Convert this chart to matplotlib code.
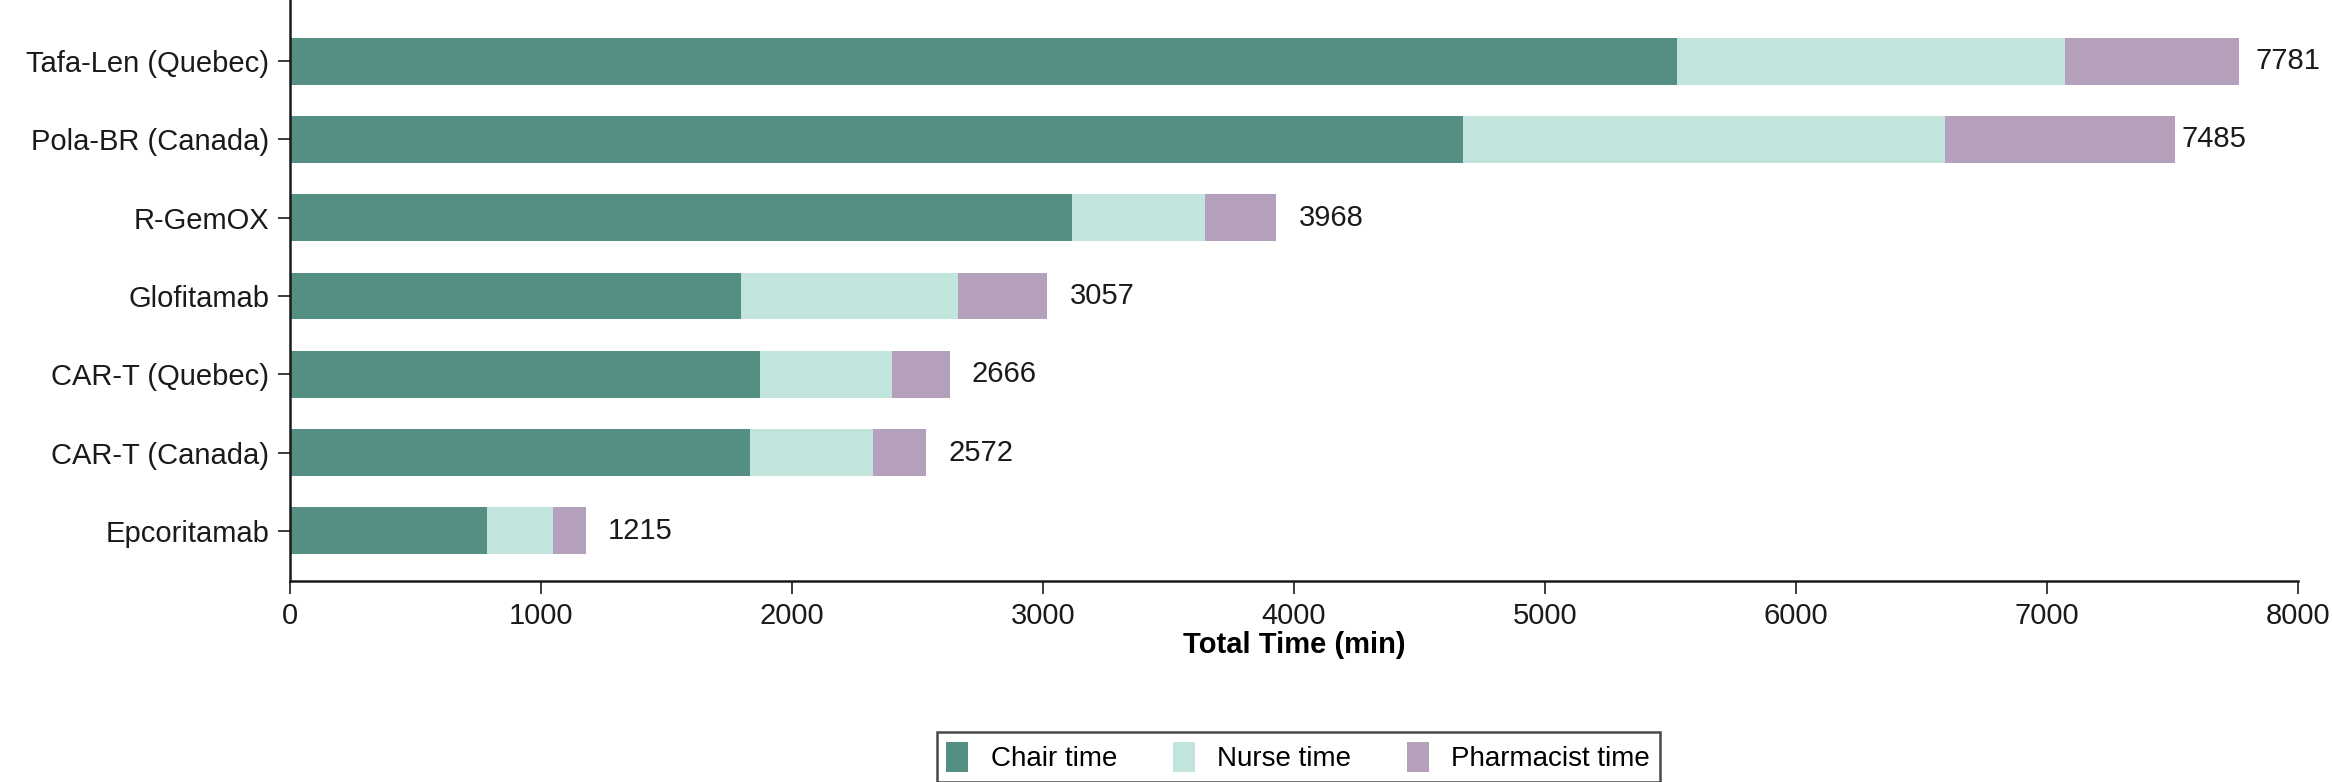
import numpy as np
import matplotlib
matplotlib.use('Agg')
from matplotlib import pyplot as plt
from matplotlib import font_manager

# data (minutes)
regimens = ['Epcoritamab', 'CAR-T (Canada)', 'CAR-T (Quebec)', 'Glofitamab',
            'R-GemOX', 'Pola-BR (Canada)', 'Tafa-Len (Quebec)']
chair = [783, 1832, 1873, 1796, 3114, 4673, 5525]
nurse = [264, 490, 527, 867, 531, 1920, 1547]
pharmacist = [131, 213, 231, 351, 284, 919, 694]
totals = [1215, 2572, 2666, 3057, 3968, 7485, 7781]

series_names = ['Chair time', 'Nurse time', 'Pharmacist time']
colors = ['#558F83', '#C1E4DD', '#B4A0BB']

names = [f.name for f in font_manager.fontManager.ttflist]
if 'Liberation Sans Narrow' in names:
    fam = ['Liberation Sans Narrow', 'DejaVu Sans']
else:
    fam = ['Liberation Sans', 'DejaVu Sans']
plt.rcParams['font.family'] = fam

fig = plt.figure(figsize=(23.32, 7.82), dpi=100)
ax = fig.add_axes([0.1244, 0.257, 0.861, 0.743])

y = np.arange(len(regimens))
left = np.zeros(len(regimens))
for vals, name, c in zip([chair, nurse, pharmacist], series_names, colors):
    ax.barh(y, vals, left=left, height=0.6, color=c, label=name)
    left = left + np.array(vals)

# value labels sit a bit right of the bar end
for yi, tot in zip(y, totals):
    ax.text(tot + 50, yi, str(tot), va='center', ha='left', fontsize=21, color='#1a1a1a')

ax.set_xlim(0, 8000)
ax.set_ylim(-0.64, 6.78)
ax.set_xticks(range(0, 8001, 1000))
ax.set_yticks(y)
ax.set_yticklabels(regimens)
ax.tick_params(axis='both', labelsize=21, length=9, width=1.2, colors='#1a1a1a', pad=6)
for s in ['top', 'right']:
    ax.spines[s].set_visible(False)
for s in ['left', 'bottom']:
    ax.spines[s].set_linewidth(1.8)
    ax.spines[s].set_color('#1a1a1a')

ax.set_xlabel('Total Time (min)', fontsize=21, fontweight='bold', labelpad=1)

leg = ax.legend(loc='upper center', bbox_to_anchor=(0.502, -0.236), ncol=3, fontsize=20,
                frameon=True, fancybox=False, edgecolor='#1a1a1a', handlelength=0.8,
                handleheight=1.3, columnspacing=2.0, borderpad=0.35)
leg.get_frame().set_linewidth(1.8)

fig.savefig('out.png', dpi=100)
